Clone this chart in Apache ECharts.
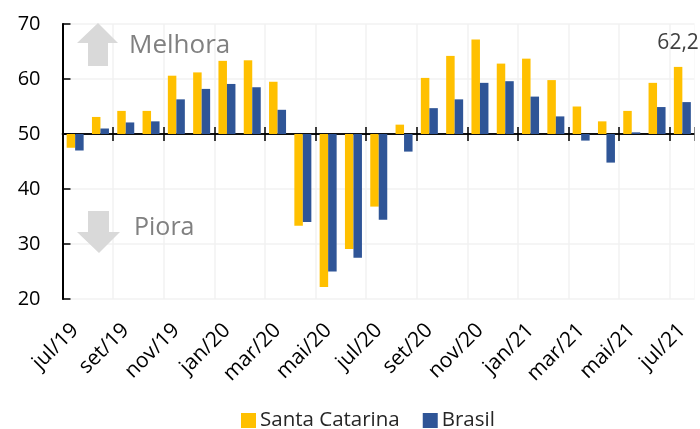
<!DOCTYPE html>
<html>
<head>
<meta charset="utf-8">
<script src="https://cdn.jsdelivr.net/npm/echarts@6/dist/echarts.min.js"></script>
<style>
  html, body { margin: 0; padding: 0; background: #fff; }
  #chart { width: 700px; height: 429px; }
</style>
</head>
<body>
<div id="chart"></div>
<script>
var categories = ['jul/19', 'ago/19', 'set/19', 'out/19', 'nov/19', 'dez/19', 'jan/20', 'fev/20', 'mar/20', 'abr/20', 'mai/20', 'jun/20', 'jul/20', 'ago/20', 'set/20', 'out/20', 'nov/20', 'dez/20', 'jan/21', 'fev/21', 'mar/21', 'abr/21', 'mai/21', 'jun/21', 'jul/21'];
var santaCatarina = [47.5, 53.1, 54.2, 54.2, 60.6, 61.2, 63.3, 63.4, 59.5, 33.3, 22.2, 29.1, 36.8, 51.7, 60.2, 64.2, 67.2, 62.8, 63.7, 59.8, 55.0, 52.3, 54.2, 59.3, 62.2];
var brasil = [47.0, 51.0, 52.1, 52.3, 56.3, 58.2, 59.1, 58.5, 54.4, 34.0, 25.0, 27.5, 34.4, 46.8, 54.7, 56.3, 59.3, 59.6, 56.8, 53.2, 48.8, 44.8, 50.3, 54.9, 55.8];

// as barras nascem em 50, entao o eixo y e deslocado
var base = 50;
var font = '"Open Sans", "Noto Sans", sans-serif';

function fromBase(list) {
  return list.map(function (v) { return +(v - base).toFixed(1); });
}

var myChart = echarts.init(document.getElementById('chart'));

// eixo x sobre a linha do 50, marcas para cima ou para baixo
function tickAxis(inside) {
  return {
    type: 'category',
    data: categories,
    position: 'bottom',
    axisLine: { onZero: true, onZeroAxisIndex: 0, lineStyle: { color: '#000', width: 1.5 } },
    axisTick: { show: true, interval: 1, inside: inside, length: 7, lineStyle: { color: '#000', width: 1.5 } },
    axisLabel: { show: false },
    splitLine: { show: false }
  };
}

var option = {
  animation: false,
  grid: { left: 62.5, right: 5, top: 24, bottom: 130, containLabel: false },
  legend: {
    data: ['Santa Catarina', 'Brasil'],
    bottom: -7,
    left: 236,
    icon: 'rect',
    itemWidth: 15,
    itemHeight: 15,
    itemGap: 23,
    textStyle: { fontFamily: font, fontSize: 20.5, color: '#262626', padding: [0, 0, 0, -1] }
  },
  xAxis: [
    {
      type: 'category',
      data: categories,
      position: 'bottom',
      axisLine: { show: false, onZero: false },
      axisTick: { show: false },
      axisLabel: { interval: 1, rotate: 45, margin: 28, fontFamily: font, fontSize: 21, color: '#000' },
      splitLine: { show: true, interval: 1, lineStyle: { color: '#f2f2f2', width: 1.5 } }
    },
    tickAxis(false),
    tickAxis(true)
  ],
  yAxis: {
    type: 'value',
    min: -30,
    max: 20,
    interval: 10,
    axisLine: { show: true, onZero: false, lineStyle: { color: '#000', width: 2 } },
    axisTick: { show: true, inside: true, length: 8, lineStyle: { color: '#000', width: 1.5 } },
    axisLabel: {
      margin: 22,
      fontFamily: font,
      fontSize: 20,
      color: '#000',
      formatter: function (v) { return String(v + base); }
    },
    splitLine: { show: true, lineStyle: { color: '#f2f2f2', width: 1.5 } }
  },
  series: [
    {
      name: 'Santa Catarina',
      type: 'bar',
      xAxisIndex: 0,
      data: fromBase(santaCatarina),
      barWidth: 8.5,
      barGap: '0%',
      itemStyle: { color: '#ffc000' },
      label: {
        show: true,
        position: 'top',
        offset: [0, -8],
        fontFamily: font,
        fontSize: 21,
        color: '#404040',
        formatter: function (p) {
          if (p.dataIndex !== categories.length - 1) return '';
          return santaCatarina[p.dataIndex].toFixed(1).replace('.', ',');
        }
      }
    },
    {
      name: 'Brasil',
      type: 'bar',
      xAxisIndex: 0,
      data: fromBase(brasil),
      barWidth: 8.5,
      barGap: '0%',
      itemStyle: { color: '#2f5597' }
    }
  ],
  graphic: [
    // tapa a ultima linha vertical, que o eixo de categorias sempre desenha
    { type: 'rect', z: 1, silent: true, shape: { x: 694.6, y: 20, width: 4, height: 285 }, style: { fill: '#fff' } },
    // seta Melhora
    { type: 'polygon', z: 100, silent: true, shape: { points: [[98, 23], [118, 43], [108, 43], [108, 66], [88, 66], [88, 43], [77, 43]] }, style: { fill: '#d9d9d9' } },
    { type: 'text', z: 100, silent: true, left: 129, top: 33, style: { text: 'Melhora', font: '26px ' + font, fill: '#808080' } },
    // seta Piora
    { type: 'polygon', z: 100, silent: true, shape: { points: [[88, 211], [109, 211], [109, 232], [120, 232], [99, 253], [77, 232], [88, 232]] }, style: { fill: '#d9d9d9' } },
    { type: 'text', z: 100, silent: true, left: 134, top: 215, style: { text: 'Piora', font: '25px ' + font, fill: '#808080' } }
  ]
};

myChart.setOption(option);
</script>
</body>
</html>
